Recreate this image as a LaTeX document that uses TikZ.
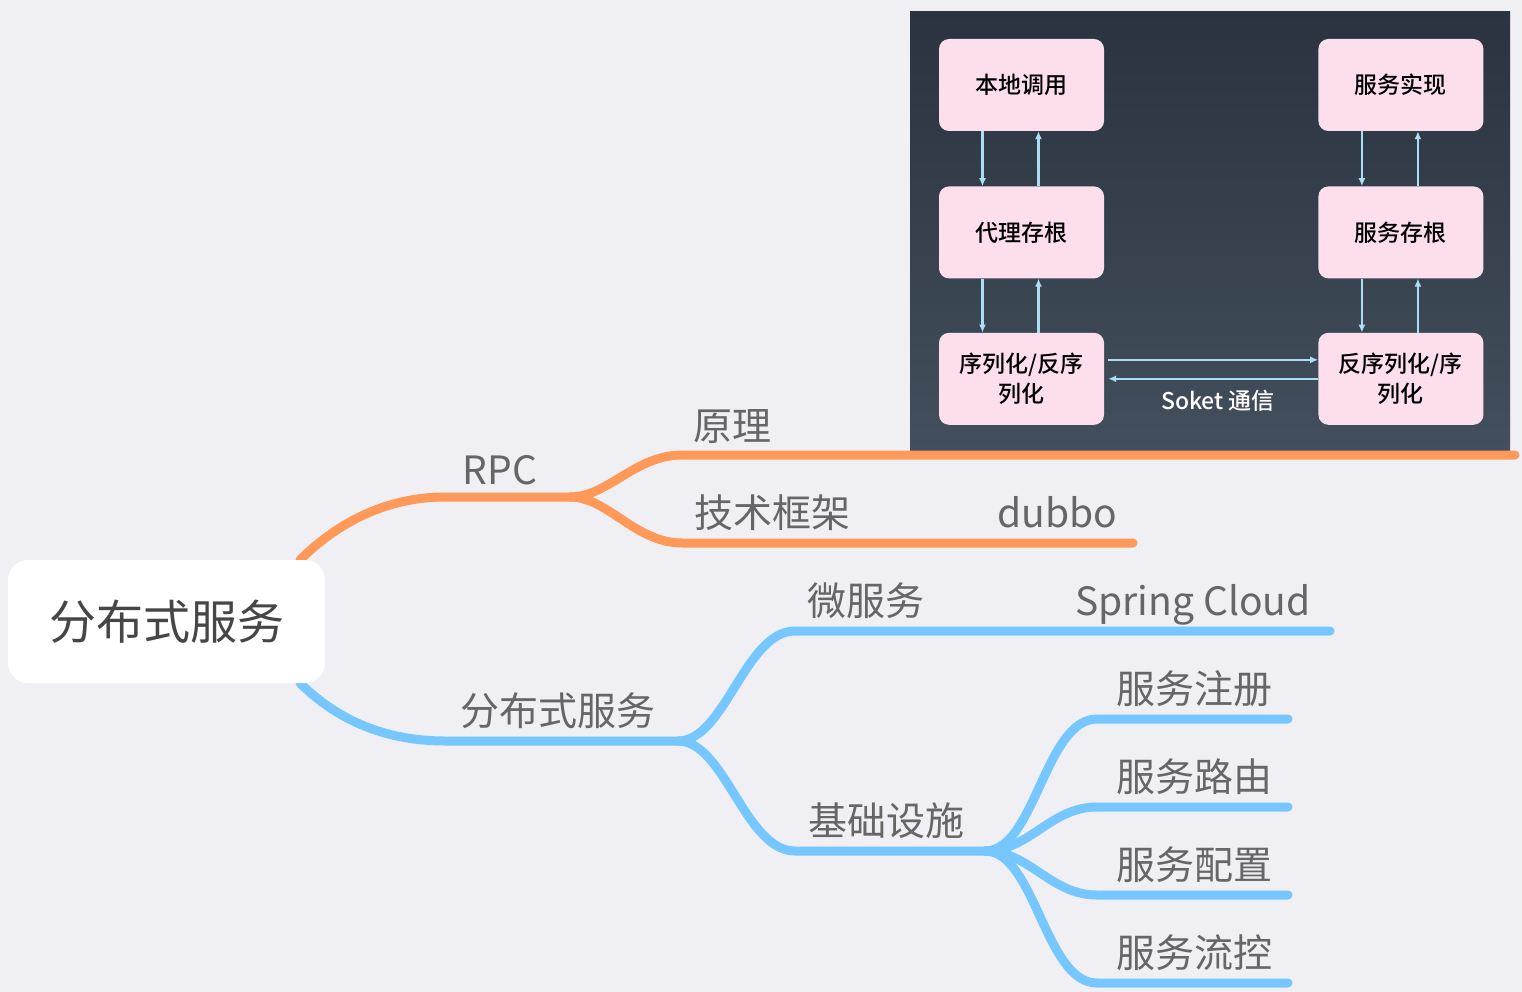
\documentclass[tikz,border=0pt]{standalone}
\usepackage{fontspec}
\newfontfamily\cjk{Noto Sans CJK SC}
\newfontfamily\cjkmedium{Noto Sans CJK SC Medium}
\usetikzlibrary{positioning,arrows.meta,calc}

\definecolor{bg_gray}{RGB}{239,239,244}
\definecolor{rpc_orange}{RGB}{255,153,90}
\definecolor{dist_blue}{RGB}{118,199,255}
\definecolor{panel_top}{RGB}{42,51,63}
\definecolor{panel_bottom}{RGB}{67,79,92}
\definecolor{stub_pink}{RGB}{252,222,236}
\definecolor{arrow_cyan}{RGB}{170,222,242}
\definecolor{label_gray}{RGB}{102,102,102}
\definecolor{root_gray}{RGB}{70,70,70}

\begin{document}
\begin{tikzpicture}[
    x=1pt, y=-1pt,
    % mind map styles
    root_box/.style={rectangle, fill=white, rounded corners=20pt,
                     minimum width=317pt, minimum height=123pt, align=center,
                     font=\cjk\fontsize{47}{50}\selectfont, text=root_gray},
    branch_label/.style={anchor=base, inner sep=0pt,
                         font=\cjk\fontsize{39}{42}\selectfont, text=label_gray},
    rpc_line/.style={draw=rpc_orange, line width=9pt, line cap=round},
    dist_line/.style={draw=dist_blue, line width=9pt, line cap=round},
    % rpc panel styles
    panel/.style={rectangle, top color=panel_top, bottom color=panel_bottom,
                  minimum width=600pt, minimum height=440pt, inner sep=0pt},
    stub_box/.style={rectangle, fill=stub_pink, rounded corners=10pt,
                     minimum width=165pt, minimum height=92pt, align=center,
                     font=\cjkmedium\fontsize{23}{30}\selectfont, text=black},
    link_arrow/.style={-{Latex[length=8pt,width=7pt]}, draw=arrow_cyan, line width=2.4pt},
    socket_label/.style={font=\cjkmedium\fontsize{23}{26}\selectfont, text=white}
]

% Background
\fill[bg_gray] (0,0) rectangle (1522,992);
\useasboundingbox (0,0) rectangle (1522,992);

% RPC panel - dark screenshot at the top right
\node[panel] (rpc_panel) at (1210,232) {};

% Client column
\node[stub_box] (local_call) at (1021.5,85) {本地调用};
\node[stub_box, below=55pt of local_call] (proxy_stub) {代理存根};
\node[stub_box, below=54pt of proxy_stub] (client_codec) {序列化/反序\\列化};

% Server column
\node[stub_box, right=214pt of local_call] (service_impl) {服务实现};
\node[stub_box, below=55pt of service_impl] (service_stub) {服务存根};
\node[stub_box, below=54pt of service_stub] (server_codec) {反序列化/序\\列化};

% Vertical arrows
\draw[link_arrow] ([xshift=-39pt]local_call.south) -- ([xshift=-39pt]proxy_stub.north);
\draw[link_arrow] ([xshift=17pt]proxy_stub.north) -- ([xshift=17pt]local_call.south);
\draw[link_arrow] ([xshift=-39pt]proxy_stub.south) -- ([xshift=-39pt]client_codec.north);
\draw[link_arrow] ([xshift=17pt]client_codec.north) -- ([xshift=17pt]proxy_stub.south);

\draw[link_arrow] ([xshift=-39pt]service_impl.south) -- ([xshift=-39pt]service_stub.north);
\draw[link_arrow] ([xshift=17pt]service_stub.north) -- ([xshift=17pt]service_impl.south);
\draw[link_arrow] ([xshift=-39pt]service_stub.south) -- ([xshift=-39pt]server_codec.north);
\draw[link_arrow] ([xshift=17pt]server_codec.north) -- ([xshift=17pt]service_stub.south);

% Socket arrows
\draw[link_arrow, shorten <=4pt] ([yshift=19pt]client_codec.east) -- ([yshift=19pt]server_codec.west);
\draw[link_arrow, shorten >=4pt] (server_codec.west) -- (client_codec.east);
\node[socket_label] (socket_text) at (1218,401) {Soket 通信};

% Branch points
\coordinate (rpc_root) at (300,560);
\coordinate (rpc_fork) at (570,497);
\coordinate (dist_root) at (300,683);
\coordinate (dist_fork) at (678,741);
\coordinate (infra_fork) at (985,851);

% RPC branch (orange)
\draw[rpc_line] (rpc_root) .. controls (340,520) and (390,497) .. (445,497) -- (rpc_fork);
\draw[rpc_line] (rpc_fork) .. controls (608,497) and (635,455) .. (682,455) -- (1515,455);
\draw[rpc_line] (rpc_fork) .. controls (608,497) and (635,543) .. (682,543) -- (1133,543);

% Distributed branch (blue)
\draw[dist_line] (dist_root) .. controls (340,723) and (390,741) .. (445,741) -- (dist_fork);
\draw[dist_line] (dist_fork) .. controls (725,741) and (745,631) .. (795,631) -- (1330,631);
\draw[dist_line] (dist_fork) .. controls (725,741) and (745,851) .. (795,851) -- (infra_fork);
\draw[dist_line] (infra_fork) .. controls (1035,851) and (1045,719) .. (1097,719) -- (1288,719);
\draw[dist_line] (infra_fork) .. controls (1030,851) and (1050,807) .. (1097,807) -- (1288,807);
\draw[dist_line] (infra_fork) .. controls (1030,851) and (1050,895) .. (1097,895) -- (1288,895);
\draw[dist_line] (infra_fork) .. controls (1035,851) and (1045,983) .. (1097,983) -- (1288,983);

% Root topic
\node[root_box] (root) at (166.5,621.5) {分布式服务};

% Branch labels
\node[branch_label] (rpc_text) at (500,484) {RPC};
\node[branch_label] (principle_text) at (732,440) {原理};
\node[branch_label] (framework_text) at (772,527) {技术框架};
\node[branch_label] (dubbo_text) at (1057,527) {dubbo};
\node[branch_label] (dist_text) at (558,725) {分布式服务};
\node[branch_label] (micro_text) at (866,615) {微服务};
\node[branch_label] (cloud_text) at (1193,615) {Spring Cloud};
\node[branch_label] (infra_text) at (886,835) {基础设施};
\node[branch_label] (register_text) at (1194,703) {服务注册};
\node[branch_label] (routing_text) at (1194,791) {服务路由};
\node[branch_label] (config_text) at (1194,879) {服务配置};
\node[branch_label] (flow_text) at (1194,967) {服务流控};

\end{tikzpicture}
\end{document}
